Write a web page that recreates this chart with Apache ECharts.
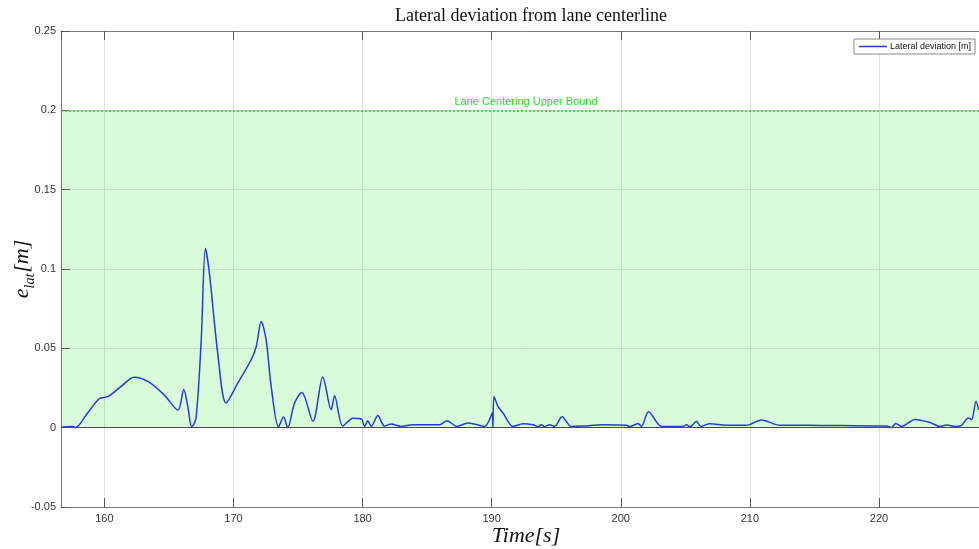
<!DOCTYPE html>
<html><head><meta charset="utf-8">
<script src="https://cdn.jsdelivr.net/npm/echarts@6/dist/echarts.min.js"></script>
<style>html,body{margin:0;padding:0;background:#fff}#c{width:979px;height:549px}</style>
</head><body><div id="c"></div>
<script>
const titleText = 'Lateral deviation from lane centerline';
const seriesName = 'Lateral deviation [m]';
const boundLabel = 'Lane Centering Upper Bound';
const upperBound = 0.2;
const xMin = 156.64, xMax = 228.68;
const yMin = -0.05, yMax = 0.25, yStep = 0.05;

const times = [156.64,157.0,157.55,157.75,158.7,159.6,160.3,161.3,162.3,163.4,164.65,165.7,166.15,166.46,166.77,167.1,167.5,167.83,168.14,168.78,169.43,170.33,171.37,171.76,172.15,172.53,172.92,173.49,173.88,174.2,174.73,175.3,176.15,176.92,177.57,177.83,178.47,179.25,179.9,180.16,180.4,180.67,181.19,181.7,182.22,183.0,183.9,185.97,186.54,187.3,188.16,189.46,190.05,190.1,190.18,190.49,190.88,191.65,192.43,193.2,193.59,193.85,194.1,194.5,194.88,195.45,196.17,197.07,198.6,200.44,200.7,201.34,201.6,202.15,203.16,204.05,204.83,205.09,205.35,205.87,206.2,206.9,208.19,209.74,210.9,212.33,214.4,216.98,220.6,220.98,221.3,221.76,222.8,223.95,224.73,225.25,225.9,226.4,226.92,227.18,227.52,227.72];
const devs = [0.0003,0.0006,0.0007,0.0,0.0092,0.0182,0.0197,0.026,0.0318,0.029,0.0205,0.011,0.024,0.0134,0.0005,0.006,0.055,0.113,0.097,0.047,0.0155,0.028,0.0428,0.051,0.0669,0.0553,0.026,0.0005,0.0067,0.0,0.0155,0.0222,0.004,0.0319,0.0113,0.0201,0.001,0.0059,0.0055,0.0008,0.0044,0.0008,0.0076,0.001,0.0023,0.0008,0.0019,0.0019,0.0044,0.0008,0.003,0.0008,0.0092,0.0,0.0197,0.0134,0.0092,0.0008,0.0025,0.0019,0.0006,0.0019,0.0006,0.0019,0.0008,0.0069,0.0008,0.001,0.0019,0.0015,0.0006,0.0027,0.0008,0.01,0.0008,0.0008,0.0008,0.0019,0.0005,0.004,0.0008,0.0025,0.0015,0.0015,0.0048,0.0015,0.0015,0.0013,0.001,0.0,0.0027,0.0008,0.0052,0.0033,0.0008,0.0017,0.0008,0.0015,0.0061,0.005,0.0166,0.0113];

const data = times.map((t, i) => [t, devs[i]]);
const chart = echarts.init(document.getElementById('c'));
const axisGray = '#7a7a7a';
chart.setOption({
  animation: false,
  backgroundColor: '#fff',
  title: {
    text: titleText, left: 526, top: 2, textAlign: 'center',
    textStyle: {fontFamily: 'Liberation Serif', fontWeight: 'normal', fontSize: 18, color: '#111'}
  },
  legend: {
    right: 4, top: 39, padding: [3, 4, 3, 5], itemGap: 4,
    backgroundColor: '#fff', borderColor: '#888', borderWidth: 1, borderRadius: 0,
    icon: 'rect', itemWidth: 28, itemHeight: 1.5,
    textStyle: {fontFamily: 'Liberation Sans', fontSize: 9, color: '#111', padding: [0,0,0,-2]},
    data: [seriesName]
  },
  grid: {left: 61, right: -12, top: 31, bottom: 42, containLabel: false, outerBoundsMode: 'none'},
  xAxis: [{
    type: 'value', min: xMin, max: xMax, minInterval: 10, maxInterval: 10, position: 'bottom',
    name: 'Time[s]', nameLocation: 'middle', nameGap: 18, nameMoveOverlap: false,
    nameTextStyle: {fontFamily: 'Liberation Serif', fontStyle: 'italic', fontSize: 22, color: '#111'},
    axisLine: {onZero: false, lineStyle: {color: axisGray, width: 1}},
    axisTick: {inside: true, length: 9, lineStyle: {color: '#555'}},
    axisLabel: {showMinLabel: false, showMaxLabel: false, margin: 6, fontFamily: 'Liberation Sans', fontSize: 11, color: '#333',
      formatter: v => (Math.abs(v / 10 - Math.round(v / 10)) < 1e-6 ? String(Math.round(v)) : '')},
    splitLine: {show: true, lineStyle: {color: '#e2e2e2', width: 1}}
  }, {
    type: 'value', position: 'top', min: xMin, max: xMax, minInterval: 10, maxInterval: 10,
    axisLine: {show: true, onZero: false, lineStyle: {color: axisGray, width: 1}},
    axisTick: {inside: true, length: 9, lineStyle: {color: '#555'}},
    axisLabel: {show: false}, splitLine: {show: false}
  }],
  yAxis: {
    type: 'value', min: yMin, max: yMax, interval: yStep,
    name: '{e|e}{s|lat}{b|[m]}', nameLocation: 'middle', nameGap: 24, nameRotate: 90, nameMoveOverlap: false,
    nameTextStyle: {
      color: '#111',
      rich: {
        e: {fontFamily: 'Liberation Serif', fontStyle: 'italic', fontSize: 22, color: '#111', verticalAlign: 'top', lineHeight: 26},
        s: {fontFamily: 'Liberation Serif', fontStyle: 'italic', fontSize: 14, color: '#111', verticalAlign: 'bottom', lineHeight: 26, padding: [8,1,0,0]},
        b: {fontFamily: 'Liberation Serif', fontStyle: 'italic', fontSize: 22, color: '#111', verticalAlign: 'top', lineHeight: 26}
      }
    },
    axisLine: {show: true, onZero: false, lineStyle: {color: axisGray, width: 1}},
    axisTick: {inside: true, length: 9, lineStyle: {color: '#555'}},
    axisLabel: {margin: 5, fontFamily: 'Liberation Sans', fontSize: 11, color: '#333'},
    splitLine: {show: true, lineStyle: {color: '#e2e2e2', width: 1}}
  },
  series: [{
    name: seriesName, type: 'line', data: data, showSymbol: false, symbol: 'none',
    smooth: 0.3, clip: true,
    lineStyle: {color: '#1f3de0', width: 1.5}, itemStyle: {color: '#1f3de0'},
    markArea: {silent: true, itemStyle: {color: 'rgba(0,230,0,0.15)'}, data: [[{yAxis: 0}, {yAxis: upperBound}]]},
    markLine: {
      silent: true, symbol: ['none', 'none'],
      data: [
        {yAxis: upperBound, lineStyle: {color: '#22cc22', type: [2, 2], width: 1.5},
          label: {show: true, position: 'insideMiddleTop', formatter: boundLabel, color: '#22e022', fontFamily: 'Liberation Sans', fontSize: 11, distance: 3}},
        {yAxis: 0, lineStyle: {color: '#4a4a4a', type: 'solid', width: 1.2}, label: {show: false}}
      ]
    },
    z: 3
  }]
});
</script></body></html>
